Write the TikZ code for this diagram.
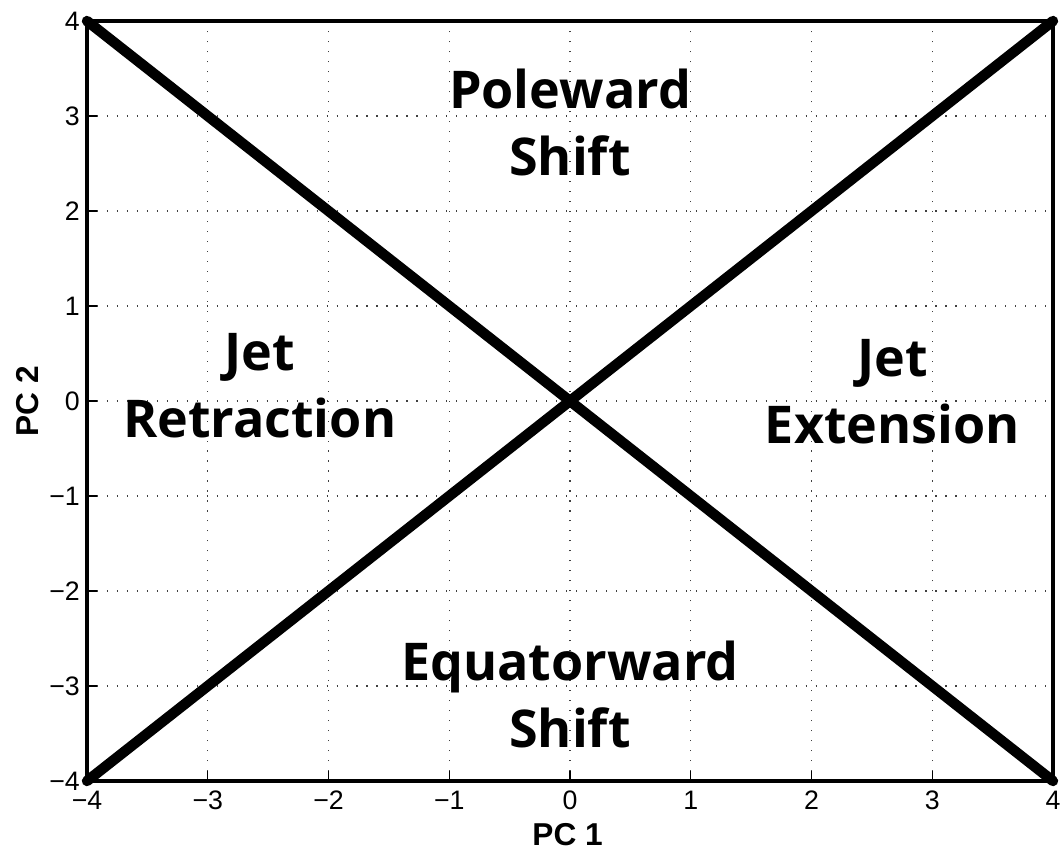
\documentclass[tikz,border=0pt]{standalone}
\usepackage{fontspec}
\setmainfont{Liberation Sans}
\newfontfamily\regionfont{Open Sans}
\usetikzlibrary{positioning, calc}
\tikzset{every picture/.append style={thick}}
\tikzset{
    gridline/.style={black!75, line width=0.8pt, dash pattern=on 0.8pt off 6.3pt},
    frameline/.style={black, line width=2.8pt},
    divider/.style={black, line width=7.4pt, line cap=round},
    ticklabel/.style={font=\fontsize{19}{22}\selectfont, inner sep=0pt},
    axislabel/.style={font=\fontsize{22.5}{26}\selectfont\bfseries, inner sep=0pt},
    regionlabel/.style={font=\regionfont\fontsize{37}{48}\selectfont\bfseries, align=center, inner sep=0pt}
}

\begin{document}
\begin{tikzpicture}[x=3.01875cm, y=2.375cm]
        \useasboundingbox (-4.7205,-4.7474) rectangle (4.0745,4.2211);

        % ==========================================
        % AXES BOX: corners, grid and ticks
        % ==========================================
        \coordinate (bl) at (-4,-4);
        \coordinate (br) at (4,-4);
        \coordinate (tr) at (4,4);
        \coordinate (tl) at (-4,4);

        % Dotted grid lines
        \foreach \k in {-3,...,3} {
            \draw[gridline] (\k,-4) -- (\k,4);
            \draw[gridline] (-4,\k) -- (4,\k);
        }

        % Tick marks (inside, bottom and left only)
        \foreach \k in {-3,...,3} {
            \draw[line width=0.8pt] (\k,-4) -- ++(0,0.105);
            \draw[line width=0.8pt] (-4,\k) -- ++(0.083,0);
        }

        % Tick labels
        \foreach \k/\lab in {-4/{−4},-3/{−3},-2/{−2},-1/{−1},0/0,1/1,2/2,3/3,4/4} {
            \node[ticklabel, anchor=east] (ytick\k) at ($(-4,\k)+(-0.055,0)$) {\lab};
            \node[ticklabel, anchor=north] (xtick\k) at ($(\k,-4)+(0,-0.1)$) {\lab};
        }

        % Frame
        \draw[frameline] (bl) rectangle (tr);

        % ==========================================
        % DIAGONALS: the four regions
        % ==========================================
        \draw[divider] (tl) -- (br);
        \draw[divider] (bl) -- (tr);

        % Region names
        \node[regionlabel] (poleward) at (0, 2.93) {Poleward\\Shift};
        \node[regionlabel] (retraction) at (-2.57, 0.16) {Jet\\Retraction};
        \node[regionlabel] (extension) at (2.67, 0.10) {Jet\\Extension};
        \node[regionlabel] (equatorward) at (0, -3.09) {Equatorward\\Shift};

        % Axis labels
        \node[axislabel] (pcone) at (-0.02, -4.56) {PC 1};
        \node[axislabel, rotate=90] (pctwo) at (-4.49, 0) {PC 2};

    \end{tikzpicture}
\end{document}
